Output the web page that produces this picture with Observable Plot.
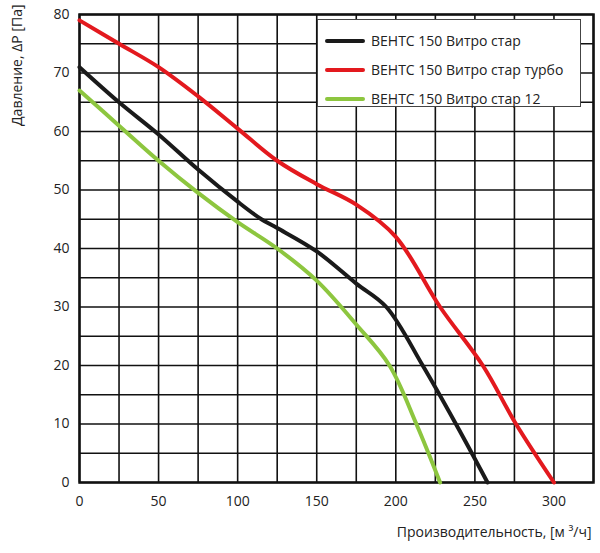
<!DOCTYPE html>
<html><head><meta charset="utf-8">
<script src="https://cdn.jsdelivr.net/npm/d3@7"></script>
<script src="https://cdn.jsdelivr.net/npm/@observablehq/plot@0.6"></script>
<style>
body{margin:0;background:#fff;font-family:"Open Sans",sans-serif;}
#wrap{position:relative;width:600px;height:553px;}
#legend{position:absolute;left:317px;top:19px;width:264px;height:88px;border:1px solid #444;background:#fff;font-size:14px;color:#222;box-sizing:border-box;padding-top:6px}
#legend div{display:flex;align-items:center;height:29px}
#legend span.sw{display:inline-block;width:40px;height:4px;margin:0 6px 0 7px;border-radius:2px}
</style></head><body>
<div id="wrap"><div id="legend"></div></div>
<script>
const seriesNames = ["ВЕНТС 150 Витро стар","ВЕНТС 150 Витро стар турбо","ВЕНТС 150 Витро стар 12"];
const colors = ["#1a1a1a","#e3191e","#8dc63f"];
const blackX = [0,25,50,75,100,115,125,150,175,194,217,238,258];
const blackY = [71,65,59.5,53.5,48,45,43.5,39.5,34,30,20,10,0];
const redX = [0,25,50,75,100,125,150,175,200,228,255,276,300];
const redY = [79,75,71,66,60.5,55,51,47.5,42,30,20,10,0];
const greenX = [0,25,50,75,100,125,150,175,196,213,228];
const greenY = [67,61,55,49.5,44.5,40,34.5,27,20,10,0];
const xTicks = [0,50,100,150,200,250,300];
const yTicks = [0,10,20,30,40,50,60,70,80];

const mk = (xs,ys,s)=>xs.map((x,i)=>({x,y:ys[i],s}));
const data = [...mk(blackX,blackY,seriesNames[0]),...mk(redX,redY,seriesNames[1]),...mk(greenX,greenY,seriesNames[2])];

const chart = Plot.plot({
  width:600,height:553,
  marginLeft:79,marginRight:7,marginTop:14,marginBottom:71,
  style:{fontFamily:"Open Sans, sans-serif",fontSize:"14px",color:"#222"},
  x:{domain:[0,325],ticks:xTicks,tickSize:0,tickPadding:14,label:null},
  y:{domain:[0,80],ticks:yTicks,tickSize:0,tickPadding:10,label:null},
  color:{domain:seriesNames,range:colors},
  marks:[
    Plot.ruleX(d3.range(0,326,25),{stroke:"#111",strokeWidth:1.6,strokeOpacity:1}),
    Plot.ruleY(d3.range(0,81,5),{stroke:"#111",strokeWidth:1.6,strokeOpacity:1}),
    Plot.frame({stroke:"#111",strokeWidth:2.5}),
    Plot.line(data,{x:"x",y:"y",z:"s",stroke:"s",strokeWidth:4,curve:"catmull-rom"}),
    Plot.text(["Производительность, [м ³/ч]"],{frameAnchor:"bottom-right",dy:54,dx:-2,fontSize:14}),
    Plot.text(["Давление, ΔP [Па]"],{frameAnchor:"top-left",rotate:-90,dx:-67,dy:-10,textAnchor:"end",fontSize:14})
  ]
});
document.getElementById("wrap").prepend(chart);
const lg=document.getElementById("legend");
seriesNames.forEach((n,i)=>{const d=document.createElement("div");d.innerHTML=`<span class="sw" style="background:${colors[i]}"></span>${n}`;lg.appendChild(d);});
</script></body></html>
